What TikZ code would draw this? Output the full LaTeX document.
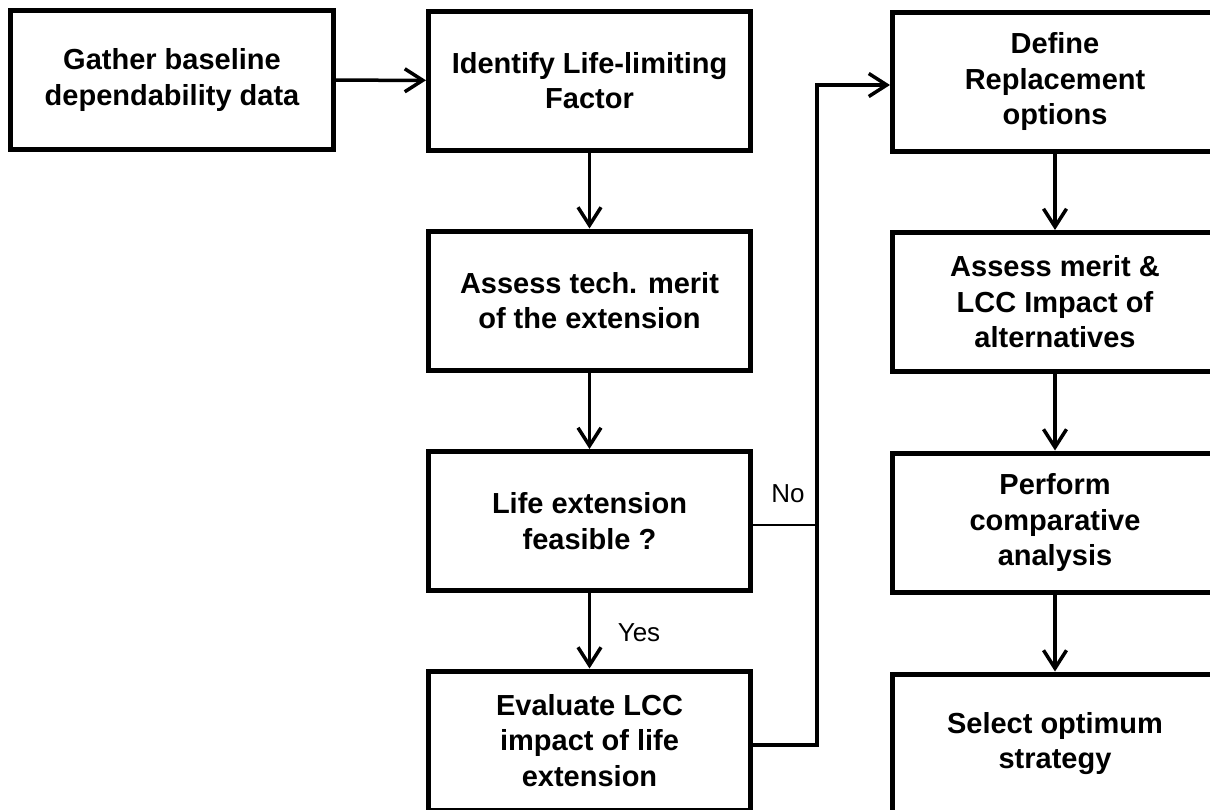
\documentclass[tikz,border=0pt]{standalone}
\usepackage{fontspec}
\setmainfont{Liberation Sans}
\usetikzlibrary{arrows.meta}
\begin{document}
\begin{tikzpicture}[x=1pt,y=-1pt,
  stepbox/.style={draw, line width=5pt, minimum width=322pt, minimum height=139pt,
    inner sep=0pt, align=center, font=\fontsize{29}{35.5}\selectfont\bfseries},
  flow/.style={line width=3.5pt, -{Straight Barb[length=18pt,width=23pt]}},
  thinline/.style={line width=1.6pt},
  lbl/.style={font=\fontsize{26}{30}\selectfont, inner sep=0pt}]
\useasboundingbox (0,0) rectangle (1210,809);
\clip (0,0) rectangle (1210,809);

% left column
\node[stepbox, minimum width=323pt] (gather) at (172,80) {Gather baseline\\dependability data};

% middle column
\node[stepbox] (identify) at (589.5,80.5)  {Identify Life-limiting\\Factor};
\node[stepbox] (techmerit) at (589.5,300.5) {Assess tech. merit\\of the extension};
\node[stepbox] (feasible) at (589.5,521)   {Life extension\\feasible ?};
\node[stepbox] (evaluate) at (589.5,740.5) {Evaluate LCC\\impact of life\\extension};

% right column
\node[stepbox, minimum width=325pt] (define) at (1055,81.5)  {Define\\Replacement\\options};
\node[stepbox, minimum width=325pt] (altmerit) at (1055,302)  {Assess merit \&\\LCC Impact of\\alternatives};
\node[stepbox, minimum width=325pt] (compare) at (1055,522.5) {Perform\\comparative\\analysis};
\node[stepbox, minimum width=325pt] (select) at (1055,743.5)  {Select optimum\\strategy};

% junction points of the return path
\coordinate (loopbot) at (817,745);
\coordinate (looptop) at (817,85);
\coordinate (nojoin) at (817,525);

% connectors
\draw[flow] (gather) -- (identify);
\draw[flow] (identify) -- (techmerit);
\draw[flow] (techmerit) -- (feasible);
\draw[flow] (feasible) -- (evaluate);
\draw[flow] (evaluate.east |- loopbot) -- (loopbot) -- (looptop) -- (define.west |- looptop);
\draw[thinline] (feasible.east |- nojoin) -- (nojoin);
\draw[flow] (define) -- (altmerit);
\draw[flow] (altmerit) -- (compare);
\draw[flow] (compare) -- (select);

% branch labels
\node[lbl] (nolbl) at (788,494) {No};
\node[lbl] (yeslbl) at (639,633) {Yes};
\end{tikzpicture}
\end{document}
